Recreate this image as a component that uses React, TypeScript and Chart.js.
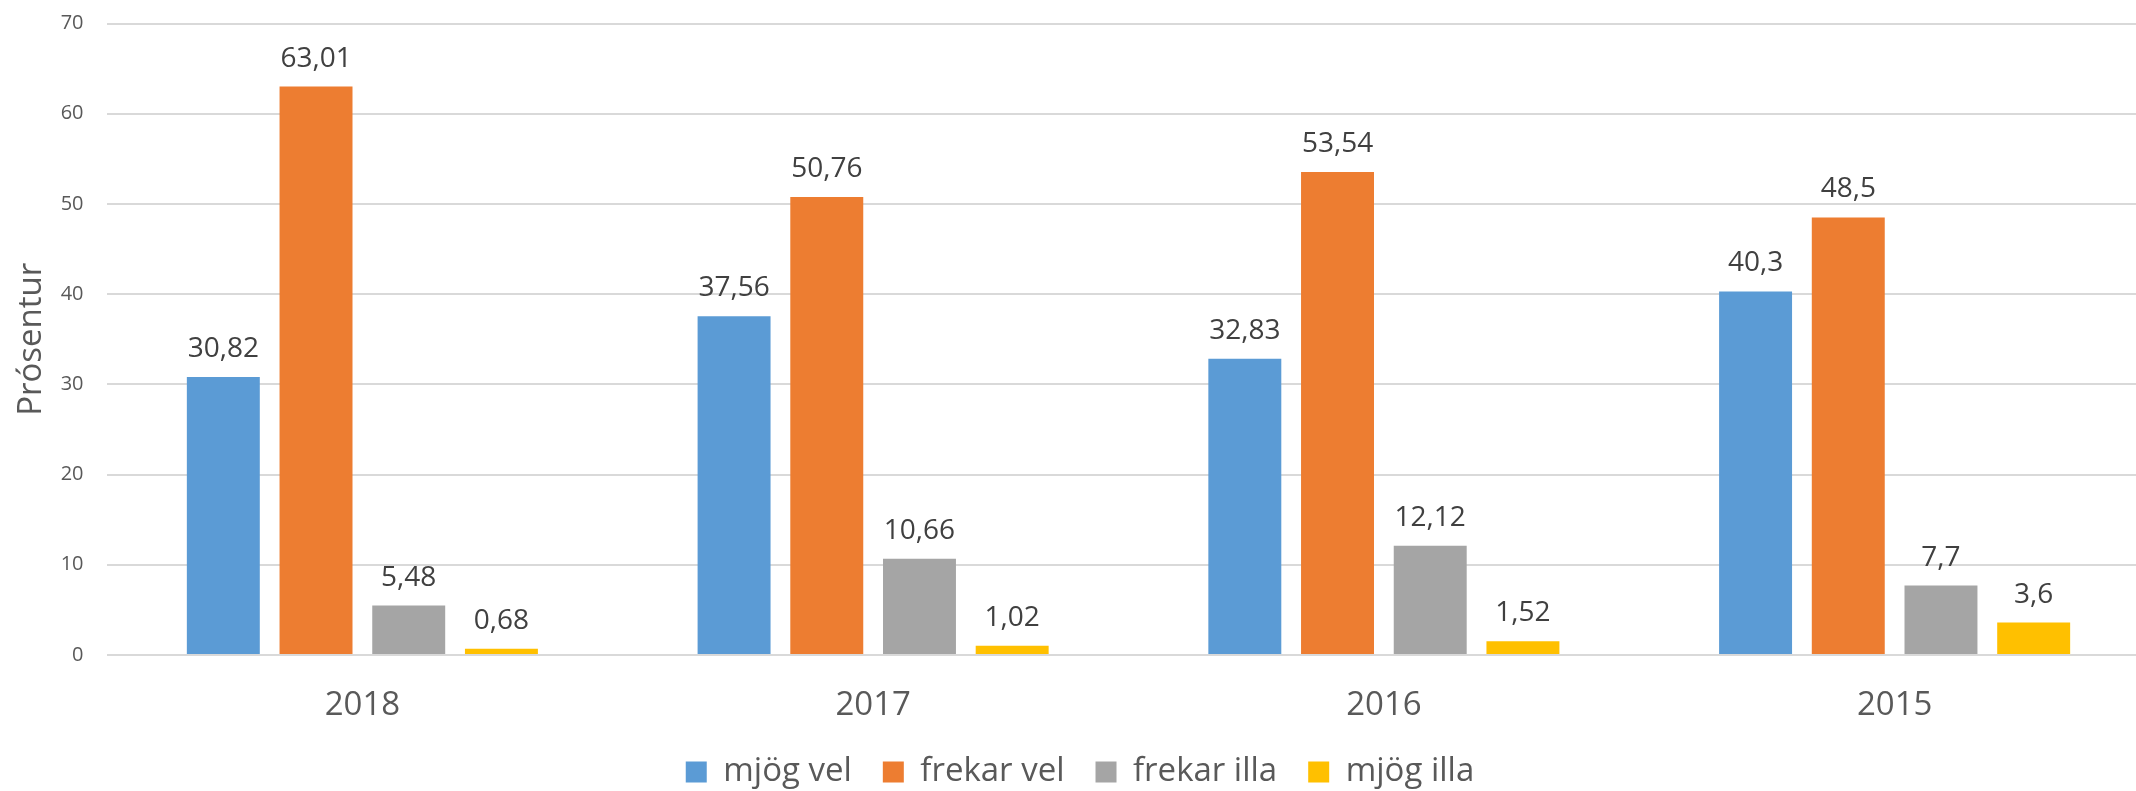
import React, { useEffect, useRef } from "react";
import { Chart, registerables } from "chart.js";

Chart.register(...registerables);

const categories = ["2018", "2017", "2016", "2015"];
const mjogVel = [30.82, 37.56, 32.83, 40.3];
const frekarVel = [63.01, 50.76, 53.54, 48.5];
const frekarIlla = [5.48, 10.66, 12.12, 7.7];
const mjogIlla = [0.68, 1.02, 1.52, 3.6];
const seriesNames = ["mjög vel", "frekar vel", "frekar illa", "mjög illa"];
const seriesColors = ["#5B9BD5", "#ED7D31", "#A5A5A5", "#FFC000"];
const yTitle = "Prósentur";
const yMin = 0;
const yMax = 70;
const yStep = 10;

const FONT = "'Open Sans', 'Noto Sans', sans-serif";

const valueLabels = {
  id: "valueLabels",
  afterDatasetsDraw(chart: any) {
    const ctx = chart.ctx;
    ctx.save();
    ctx.font = `28px ${FONT}`;
    ctx.fillStyle = "#404040";
    ctx.textAlign = "center";
    ctx.textBaseline = "alphabetic";
    chart.data.datasets.forEach((ds: any, i: number) => {
      const meta = chart.getDatasetMeta(i);
      meta.data.forEach((bar: any, j: number) => {
        const v = ds.data[j];
        ctx.fillText(String(v).replace(".", ","), bar.x, bar.y - 20);
      });
    });
    ctx.restore();
  },
};

export default function App() {
  const ref = useRef<HTMLCanvasElement>(null);
  useEffect(() => {
    if (!ref.current) return;
    const data = [mjogVel, frekarVel, frekarIlla, mjogIlla];
    const chart = new Chart(ref.current, {
      type: "bar",
      data: {
        labels: categories,
        datasets: data.map((d, i) => ({
          label: seriesNames[i],
          data: d,
          backgroundColor: seriesColors[i],
          borderWidth: 0,
          categoryPercentage: 0.726,
          barPercentage: 0.787,
        })),
      },
      options: {
        responsive: false,
        animation: false,
        devicePixelRatio: 1,
        layout: { padding: { left: 10, right: 10, top: 23.5, bottom: 1.5 } },
        plugins: {
          tooltip: { enabled: false },
          legend: {
            position: "bottom",
            labels: {
              boxWidth: 21,
              boxHeight: 21,
              padding: 31,
              color: "#595959",
              font: { family: FONT, size: 33 },
            },
          },
        },
        scales: {
          x: {
            grid: { display: false },
            border: { display: false },
            ticks: {
              color: "#595959",
              font: { family: FONT, size: 33 },
              padding: 23,
              maxRotation: 0,
            },
            afterFit: (s: any) => {
              s.height = 69.5;
            },
          },
          y: {
            min: yMin,
            max: yMax,
            border: { display: false },
            grid: { color: "#D9D9D9", lineWidth: 2, drawTicks: false },
            ticks: {
              stepSize: yStep,
              color: "#595959",
              font: { family: FONT, size: 20, lineHeight: 0 },
              padding: 23.5,
            },
            title: {
              display: true,
              text: yTitle,
              color: "#595959",
              font: { family: FONT, size: 33 },
              padding: { top: 2, bottom: 0 },
            },
            afterFit: (s: any) => {
              s.width = 97;
            },
          },
        },
      },
      plugins: [valueLabels],
    });
    return () => chart.destroy();
  }, []);
  return (
    <div
      style={{
        position: "fixed",
        left: 0,
        top: 0,
        width: 2136,
        height: 791,
        overflow: "hidden",
        background: "#fff",
      }}
    >
      <canvas ref={ref} width={2160} height={800} style={{ display: "block" }} />
    </div>
  );
}
